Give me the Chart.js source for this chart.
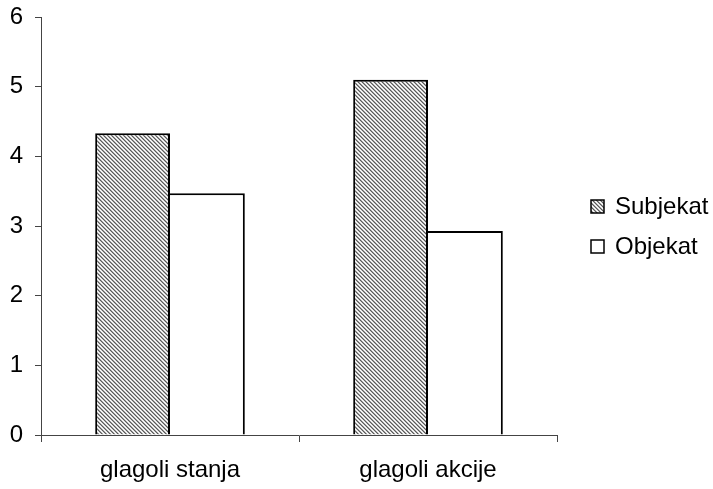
<!DOCTYPE html>
<html>
<head>
<meta charset="utf-8">
<script src="https://cdn.jsdelivr.net/npm/chart.js@4/dist/chart.umd.min.js"></script>
<style>
  html, body { margin: 0; padding: 0; background: #fff; }
  #wrap { width: 713px; height: 489px; }
</style>
</head>
<body>
<div id="wrap"><canvas id="myChart"></canvas></div>
<script>
const categories = ['glagoli stanja', 'glagoli akcije']
const subjekat = [4.33, 5.1]
const objekat = [3.47, 2.93]
const seriesNames = ['Subjekat', 'Objekat']
const yTicks = [0, 1, 2, 3, 4, 5, 6]

const FONT = '"Liberation Sans", Arial, sans-serif'

// small diagonal hatch tile, drawn pixel by pixel so it stays crisp
function makeHatch() {
  const c = document.createElement('canvas')
  c.width = 4
  c.height = 4
  const cx = c.getContext('2d')
  const img = cx.createImageData(4, 4)
  for (let y = 0; y < 4; y++) {
    for (let x = 0; x < 4; x++) {
      const d = (x - y + 4) % 4
      let v = 255
      if (d === 0) v = 90
      else if (d === 1) v = 165
      else if (d === 3) v = 215
      const i = (y * 4 + x) * 4
      img.data[i] = v
      img.data[i + 1] = v
      img.data[i + 2] = v
      img.data[i + 3] = 255
    }
  }
  cx.putImageData(img, 0, 0)
  return cx.createPattern(c, 'repeat')
}

const hatch = makeHatch()
const fills = [hatch, '#ffffff']

const sideLegend = {
  id: 'sideLegend',
  afterDraw(chart) {
    const ctx = chart.ctx
    ctx.save()
    ctx.font = '24px ' + FONT
    ctx.textBaseline = 'middle'
    seriesNames.forEach((name, i) => {
      const y = 200 + i * 40
      ctx.fillStyle = fills[i]
      ctx.fillRect(591, y, 13, 13)
      ctx.lineWidth = 1.5
      ctx.strokeStyle = '#000'
      ctx.strokeRect(591, y, 13, 13)
      ctx.fillStyle = '#000'
      ctx.fillText(name, 615, y + 7)
    })
    ctx.restore()
  }
}

new Chart(document.getElementById('myChart'), {
  type: 'bar',
  data: {
    labels: categories,
    datasets: [
      {
        label: seriesNames[0],
        data: subjekat,
        backgroundColor: hatch,
        borderColor: '#000',
        borderWidth: { top: 2, left: 2, right: 2, bottom: 0 },
      },
      {
        label: seriesNames[1],
        data: objekat,
        backgroundColor: '#fff',
        borderColor: '#000',
        borderWidth: { top: 2, left: 0, right: 2, bottom: 0 },
      },
    ],
  },
  options: {
    responsive: true,
    maintainAspectRatio: false,
    animation: false,
    layout: { padding: { top: 17, right: 156, left: 0, bottom: 0 } },
    datasets: { bar: { categoryPercentage: 0.58, barPercentage: 1, borderSkipped: false } },
    plugins: {
      legend: { display: false },
      tooltip: { enabled: false },
    },
    scales: {
      x: {
        offset: true,
        grid: { display: true, drawOnChartArea: false, offset: true, tickLength: 7, color: '#444' },
        border: { color: '#444', width: 1 },
        ticks: { color: '#000', font: { family: FONT, size: 24 }, padding: 14 },
        afterFit(s) { s.height = 54; s.paddingLeft = 0; s.paddingRight = 0 },
      },
      y: {
        min: 0,
        max: 6,
        afterBuildTicks(s) { s.ticks = yTicks.map(v => ({ value: v })) },
        grid: { display: true, drawOnChartArea: false, tickLength: 6, color: '#444' },
        border: { color: '#444', width: 1 },
        ticks: { color: '#000', font: { family: FONT, size: 24 }, padding: 12 },
        afterFit(s) { s.width = 41; s.paddingTop = 0; s.paddingBottom = 0 },
      },
    },
  },
  plugins: [sideLegend],
})
</script>
</body>
</html>
